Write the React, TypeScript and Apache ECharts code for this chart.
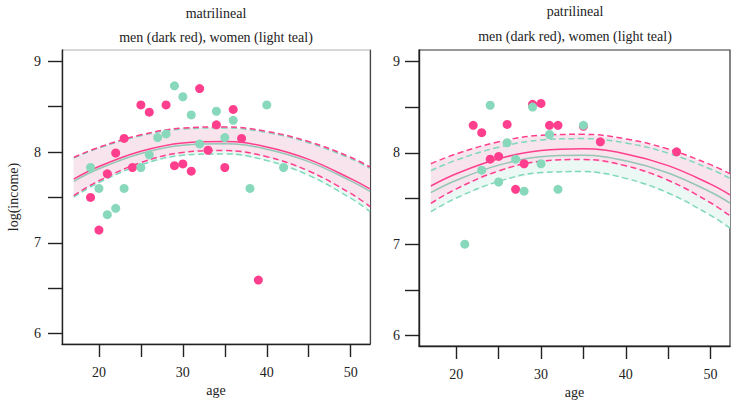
import React, { useEffect, useRef } from "react";
import * as echarts from "echarts";

const panelTitles = ["matrilineal", "patrilineal"];
const panelSubtitle = "men (dark red), women (light teal)";
const xTickValues = [20, 25, 30, 35, 40, 45, 50];
const xLabelValues = [20, 30, 40, 50];
const yTickValues = [6, 6.5, 7, 7.5, 8, 8.5, 9];
const yLabelValues = [6, 7, 8, 9];
const curveAges = [17, 20, 25, 30, 35, 40, 45, 50, 52.3];

// matrilineal points
const matMenAge = [19, 20, 21, 22, 23, 24, 25, 26, 28, 29, 30, 31, 32, 33, 34, 35, 36, 37, 39];
const matMenInc = [7.5, 7.14, 7.76, 7.99, 8.15, 7.83, 8.52, 8.44, 8.52, 7.85, 7.87, 7.79, 8.7, 8.02, 8.3, 7.83, 8.47, 8.15, 6.59];
const matWomenAge = [19, 20, 21, 22, 23, 25, 26, 27, 28, 29, 30, 31, 32, 34, 35, 36, 38, 40, 42];
const matWomenInc = [7.83, 7.6, 7.31, 7.38, 7.6, 7.83, 7.97, 8.16, 8.2, 8.73, 8.61, 8.41, 8.09, 8.45, 8.16, 8.35, 7.6, 8.52, 7.83];

// matrilineal fitted curves (read at curveAges)
const matMenFit = [7.703, 7.841, 8.009, 8.101, 8.117, 8.057, 7.92, 7.708, 7.595];
const matMenUpper = [7.941, 8.053, 8.19, 8.265, 8.277, 8.228, 8.116, 7.943, 7.835];
const matMenLower = [7.52, 7.684, 7.884, 7.996, 8.017, 7.949, 7.791, 7.544, 7.4];
const matWomenFit = [7.678, 7.816, 7.984, 8.076, 8.092, 8.032, 7.895, 7.683, 7.568];
const matWomenUpper = [7.935, 8.045, 8.18, 8.255, 8.266, 8.216, 8.103, 7.929, 7.822];
const matWomenLower = [7.505, 7.665, 7.859, 7.965, 7.98, 7.907, 7.744, 7.492, 7.346];

// patrilineal points
const patMenAge = [22, 23, 24, 25, 26, 27, 28, 29, 30, 31, 32, 35, 37, 46];
const patMenInc = [8.3, 8.22, 7.93, 7.96, 8.31, 7.6, 7.88, 8.53, 8.54, 8.3, 8.3, 8.29, 8.12, 8.01];
const patWomenAge = [21, 23, 24, 25, 26, 27, 28, 29, 30, 31, 32, 35];
const patWomenInc = [7.0, 7.81, 8.52, 7.68, 8.11, 7.93, 7.58, 8.5, 7.88, 8.2, 7.6, 8.3];

// patrilineal fitted curves (read at curveAges)
const patMenFit = [7.636, 7.77, 7.934, 8.025, 8.043, 7.987, 7.859, 7.657, 7.54];
const patMenUpper = [7.88, 7.988, 8.12, 8.191, 8.202, 8.152, 8.041, 7.87, 7.77];
const patMenLower = [7.446, 7.605, 7.801, 7.908, 7.926, 7.857, 7.699, 7.453, 7.31];
const patWomenFit = [7.564, 7.699, 7.865, 7.956, 7.972, 7.913, 7.779, 7.571, 7.45];
const patWomenUpper = [7.804, 7.92, 8.061, 8.14, 8.155, 8.107, 7.996, 7.822, 7.72];
const patWomenLower = [7.355, 7.505, 7.687, 7.783, 7.794, 7.72, 7.56, 7.315, 7.174];

const FONT = "Liberation Serif";
const INK = "#222";
const PINK = "#ff3f8d";
const TEAL_PT = "#88d8bc";
const TEAL_DASH = "#7fd8bb";
const TEAL_LINE = "#94c6b5";
const PINK_FILL = "#f7e4ed";
const TEAL_FILL = "#ebf8f4";

const pairs = (xs: number[], ys: number[]) => xs.map((x, i) => [x, ys[i]]);

type Panel = {
  menAge: number[]; menInc: number[]; womenAge: number[]; womenInc: number[];
  menFit: number[]; menUpper: number[]; menLower: number[];
  womenFit: number[]; womenUpper: number[]; womenLower: number[];
};

const panels: Panel[] = [
  { menAge: matMenAge, menInc: matMenInc, womenAge: matWomenAge, womenInc: matWomenInc,
    menFit: matMenFit, menUpper: matMenUpper, menLower: matMenLower,
    womenFit: matWomenFit, womenUpper: matWomenUpper, womenLower: matWomenLower },
  { menAge: patMenAge, menInc: patMenInc, womenAge: patWomenAge, womenInc: patWomenInc,
    menFit: patMenFit, menUpper: patMenUpper, menLower: patMenLower,
    womenFit: patWomenFit, womenUpper: patWomenUpper, womenLower: patWomenLower },
];

function buildSeries(p: Panel, i: number): any[] {
  const base = { xAxisIndex: i, yAxisIndex: i, showSymbol: false, symbol: "none", silent: true, smooth: 0.4 };
  const band = (lower: number[], upper: number[], fill: string, z: number) => ({
    type: "custom", xAxisIndex: i, yAxisIndex: i, silent: true, z, clip: true,
    data: curveAges.map((x, k) => [x, lower[k], upper[k]]),
    encode: { x: 0, y: [1, 2] },
    renderItem: (params: any, api: any) => {
      if (params.dataIndex !== 0) return null;
      const top = curveAges.map((x, k) => api.coord([x, upper[k]]));
      const bottom = curveAges.map((x, k) => api.coord([x, lower[k]])).reverse();
      return {
        type: "polygon",
        shape: { points: [...top, ...bottom], smooth: 0 },
        style: { fill, stroke: "none" },
      };
    },
  });
  const line = (ys: number[], color: string, dashed: boolean, z: number) => ({
    ...base, type: "line", data: pairs(curveAges, ys), z,
    lineStyle: { color, width: 1.5, type: dashed ? [6, 3.5] : "solid" },
  });
  return [
    band(p.womenLower, p.womenUpper, TEAL_FILL, 1),
    band(p.menLower, p.menUpper, PINK_FILL, 2),
    line(p.womenUpper, TEAL_DASH, true, 3),
    line(p.womenLower, TEAL_DASH, true, 3),
    line(p.menUpper, PINK, true, 4),
    line(p.menLower, PINK, true, 4),
    line(p.womenFit, TEAL_LINE, false, 5),
    line(p.menFit, PINK, false, 6),
    { type: "scatter", xAxisIndex: i, yAxisIndex: i, data: pairs(p.menAge, p.menInc), symbolSize: 9,
      itemStyle: { color: PINK, opacity: 1 }, z: 8, silent: true },
    { type: "scatter", xAxisIndex: i, yAxisIndex: i, data: pairs(p.womenAge, p.womenInc), symbolSize: 9,
      itemStyle: { color: TEAL_PT, opacity: 1 }, z: 9, silent: true },
  ];
}

const labelStyle = { fontFamily: FONT, fontSize: 14, color: INK };

function xAxisFor(i: number) {
  return {
    type: "value", gridIndex: i, min: 15.6, max: 52.3,
    axisLine: { show: true, onZero: false, lineStyle: { color: INK, width: 1.4 } },
    axisTick: { show: true, inside: false, length: 13, customValues: xTickValues, lineStyle: { color: INK, width: 1.4 } },
    axisLabel: { show: true, customValues: xLabelValues, margin: 21, ...labelStyle },
    splitLine: { show: false },
    name: "age", nameLocation: "middle", nameGap: 39,
    nameTextStyle: { ...labelStyle },
  };
}

function yAxisFor(i: number) {
  return {
    type: "value", gridIndex: i, min: 5.885, max: 9.125,
    axisLine: { show: true, onZero: false, lineStyle: { color: INK, width: 1.4 } },
    axisTick: { show: true, inside: false, length: 14, customValues: yTickValues, lineStyle: { color: INK, width: 1.4 } },
    axisLabel: { show: true, customValues: yLabelValues, margin: i === 0 ? 21 : 19, ...labelStyle },
    splitLine: { show: false },
    name: i === 0 ? "log(income)" : "", nameLocation: "middle", nameGap: 42,
    nameTextStyle: { ...labelStyle },
  };
}

export default function App() {
  const ref = useRef<HTMLDivElement>(null);
  useEffect(() => {
    if (!ref.current) return;
    const chart = echarts.init(ref.current, null, { renderer: "svg" });
    const centers = [216, 575];
    const graphic: any[] = [];
    panelTitles.forEach((t, i) => {
      graphic.push({ type: "text", x: centers[i], y: i === 0 ? 13 : 11,
        style: { text: t, align: "center", verticalAlign: "middle", fontFamily: FONT, fontSize: 14, fill: INK } });
      graphic.push({ type: "text", x: centers[i], y: i === 0 ? 37 : 36,
        style: { text: panelSubtitle, align: "center", verticalAlign: "middle", fontFamily: FONT, fontSize: 14, fill: INK } });
    });
    chart.setOption({
      animation: false,
      backgroundColor: "#ffffff",
      textStyle: { fontFamily: FONT },
      grid: [
        { left: 62, top: 50, width: 308, height: 294, show: true, borderColor: "#b0b0b0", borderWidth: 1,
          backgroundColor: "transparent", containLabel: false, outerBoundsMode: "none" },
        { left: 419, top: 50, width: 311, height: 296, show: true, borderColor: "#333", borderWidth: 1.2,
          backgroundColor: "transparent", containLabel: false, outerBoundsMode: "none" },
      ],
      xAxis: [xAxisFor(0), xAxisFor(1)],
      yAxis: [
        yAxisFor(0), yAxisFor(1),
        { type: "value", gridIndex: 0, position: "right", min: 5.885, max: 9.125,
          axisLine: { show: true, onZero: false, lineStyle: { color: "#444", width: 1.2 } },
          axisTick: { show: false }, axisLabel: { show: false }, splitLine: { show: false } },
      ],
      graphic,
      series: [...buildSeries(panels[0], 0), ...buildSeries(panels[1], 1)],
    });
    return () => chart.dispose();
  }, []);
  return <div ref={ref} style={{ position: "fixed", left: 0, top: 0, width: 731, height: 400, background: "#fff" }} />;
}
